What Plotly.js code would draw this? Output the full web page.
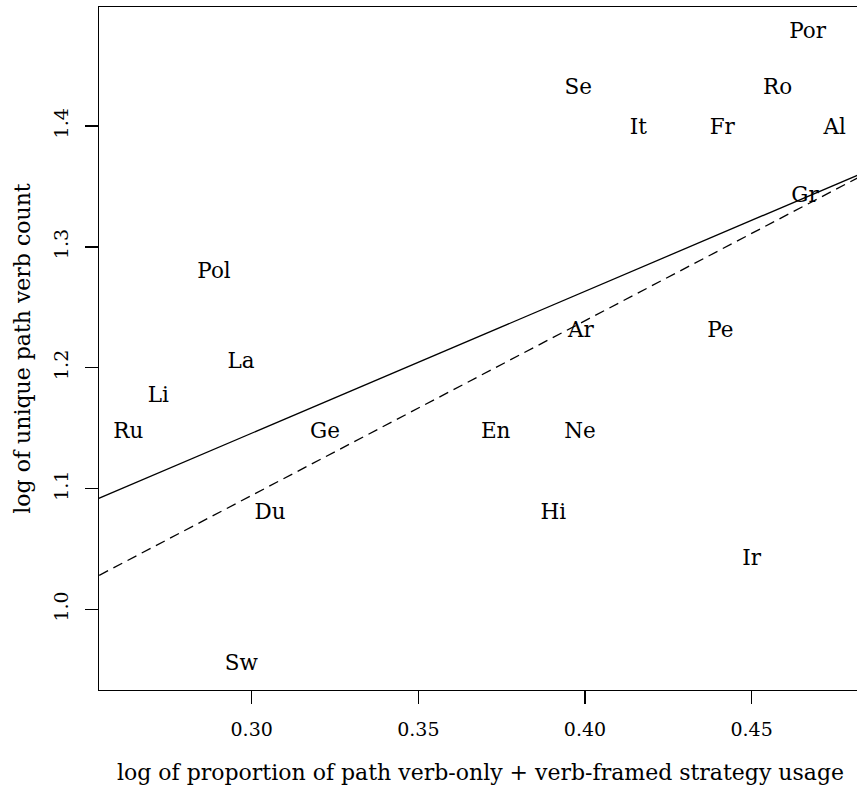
<!DOCTYPE html>
<html>
<head>
<meta charset="utf-8">
<script src="https://cdn.plot.ly/plotly-3.0.1.min.js"></script>
<style>
html, body { margin: 0; padding: 0; overflow: hidden; background: #fff; }
#chart { width: 862px; height: 788px; }
</style>
</head>
<body>
<div id="chart"></div>
<script>
// Language labels and their positions
var languages = ["Por", "Se", "Ro", "It", "Fr", "Al", "Gr", "Pol", "Ar", "Pe", "La", "Li", "Ru", "Ge", "En", "Ne", "Du", "Hi", "Ir", "Sw"];
var logProportion = [0.4668, 0.3980, 0.4578, 0.4160, 0.4412, 0.4749, 0.4660, 0.2887, 0.3988, 0.4406, 0.2968, 0.2720, 0.2630, 0.3220, 0.3732, 0.3985, 0.3055, 0.3905, 0.4500, 0.2969];
var logVerbCount = [1.477, 1.431, 1.431, 1.398, 1.398, 1.398, 1.342, 1.279, 1.230, 1.230, 1.204, 1.176, 1.146, 1.146, 1.146, 1.146, 1.079, 1.079, 1.041, 0.954];

// Fitted lines (endpoints)
var fitX = [0.25, 0.49];
var fitSolidY = [1.087, 1.369];
var fitDashedY = [1.022, 1.369];

// Axis ticks
var xTicks = [0.30, 0.35, 0.40, 0.45];
var xTickLabels = ["0.30", "0.35", "0.40", "0.45"];
var yTicks = [1.0, 1.1, 1.2, 1.3, 1.4];
var yTickLabels = ["1.0", "1.1", "1.2", "1.3", "1.4"];

var FONT = "DejaVu Serif, Liberation Serif, serif";

var traces = [
  {
    x: fitX, y: fitSolidY, mode: "lines", type: "scatter",
    line: { color: "#000", width: 1.3 }, hoverinfo: "skip", showlegend: false
  },
  {
    x: fitX, y: fitDashedY, mode: "lines", type: "scatter",
    line: { color: "#000", width: 1.3, dash: "10px,6px" }, hoverinfo: "skip", showlegend: false
  },
  {
    x: logProportion, y: logVerbCount, text: languages, mode: "text", type: "scatter",
    textposition: "middle center",
    textfont: { family: FONT, size: 21.5, color: "#000" },
    hoverinfo: "text", showlegend: false, cliponaxis: false
  }
];

var layout = {
  width: 862, height: 788,
  margin: { l: 99, r: 0, t: 7, b: 98, pad: 0 },
  paper_bgcolor: "#fff", plot_bgcolor: "#fff",
  font: { family: FONT, color: "#000" },
  showlegend: false,
  xaxis: {
    range: [0.25419, 0.48311],
    tickmode: "array", tickvals: xTicks, ticktext: xTickLabels,
    ticks: "outside", ticklen: 13, tickwidth: 1.3, tickcolor: "#000",
    showline: true, mirror: true, linecolor: "#000", linewidth: 1.3,
    showgrid: false, zeroline: false,
    tickfont: { family: FONT, size: 19, color: "#000" },
    ticklabelstandoff: 9,
    title: { text: "log of proportion of path verb-only + verb-framed strategy usage",
             font: { family: FONT, size: 22, color: "#000" }, standoff: 25 },
    automargin: false
  },
  yaxis: {
    range: [0.9332, 1.4986],
    tickmode: "array", tickvals: yTicks, ticktext: yTickLabels,
    ticks: "outside", ticklen: 13, tickwidth: 1.3, tickcolor: "#000",
    showline: true, mirror: true, linecolor: "#000", linewidth: 1.3,
    showgrid: false, zeroline: false,
    tickangle: -90,
    tickfont: { family: FONT, size: 19, color: "#000" },
    ticklabelstandoff: 9,
    title: { text: "log of unique path verb count",
             font: { family: FONT, size: 22, color: "#000" }, standoff: 13 },
    automargin: false
  }
};

Plotly.newPlot("chart", traces, layout, { displayModeBar: false, staticPlot: true });
</script>
</body>
</html>
